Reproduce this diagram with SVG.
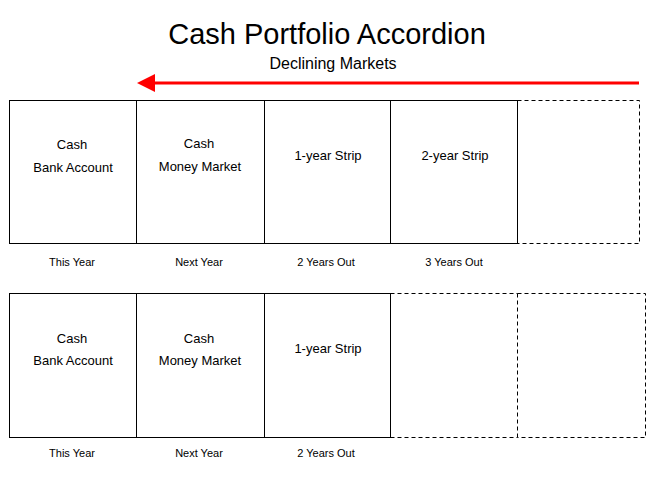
<svg xmlns="http://www.w3.org/2000/svg" width="662" height="490" viewBox="0 0 662 490">
<style>
text{font-family:"Liberation Sans",Arial,sans-serif;fill:#000;text-anchor:middle}
.t{font-size:13px}
.l{font-size:11px}
.s{fill:none;stroke:#000;stroke-width:1}
.d{fill:none;stroke:#000;stroke-width:1;stroke-dasharray:4,3}
</style>
<defs>
<marker id="ah" markerWidth="6" markerHeight="6" refX="1" refY="3" orient="auto" markerUnits="strokeWidth">
<path d="M0,0 L6,3 L0,6 z" fill="#f00"/>
</marker>
</defs>
<text x="327" y="44" style="font-size:29px">Cash Portfolio Accordion</text>
<text x="333" y="69" style="font-size:16px">Declining Markets</text>
<g id="connectors">
<line x1="639" y1="83" x2="152" y2="83" stroke="#f00" stroke-width="3" marker-end="url(#ah)"/>
</g>
<g id="row1">
<g id="r1c1"><rect class="s" x="9.5" y="100.5" width="127" height="143"/><text class="t" x="72" y="149">Cash</text><text class="t" x="73" y="171.5">Bank Account</text></g>
<g id="r1c2"><rect class="s" x="136.5" y="100.5" width="128" height="143"/><text class="t" x="199" y="147.5">Cash</text><text class="t" x="200" y="171">Money Market</text></g>
<g id="r1c3"><rect class="s" x="264.5" y="100.5" width="126" height="143"/><text class="t" x="328" y="160">1-year Strip</text></g>
<g id="r1c4"><rect class="s" x="390.5" y="100.5" width="127" height="143"/><text class="t" x="455" y="160">2-year Strip</text></g>
<g id="r1c5"><path class="d" d="M517.5,100.5 H639.5 V243.5 H517.5"/></g>
<text class="l" x="72" y="266">This Year</text>
<text class="l" x="199" y="266">Next Year</text>
<text class="l" x="326" y="266">2 Years Out</text>
<text class="l" x="454" y="266">3 Years Out</text>
</g>
<g id="row2">
<g id="r2c1"><rect class="s" x="9.5" y="293.5" width="127" height="144"/><text class="t" x="72" y="343">Cash</text><text class="t" x="73" y="365">Bank Account</text></g>
<g id="r2c2"><rect class="s" x="136.5" y="293.5" width="128" height="144"/><text class="t" x="199" y="343">Cash</text><text class="t" x="200" y="365">Money Market</text></g>
<g id="r2c3"><rect class="s" x="264.5" y="293.5" width="126" height="144"/><text class="t" x="328" y="353">1-year Strip</text></g>
<g id="r2c4"><path class="d" d="M390.5,293.5 H517.5 M390.5,437.5 H517.5"/></g>
<g id="r2c5"><path class="d" d="M517.5,293.5 H645.5 V437.5 H517.5 M517.5,293.5 V437.5"/></g>
<text class="l" x="72" y="457">This Year</text>
<text class="l" x="199" y="457">Next Year</text>
<text class="l" x="326" y="457">2 Years Out</text>
</g>
</svg>
